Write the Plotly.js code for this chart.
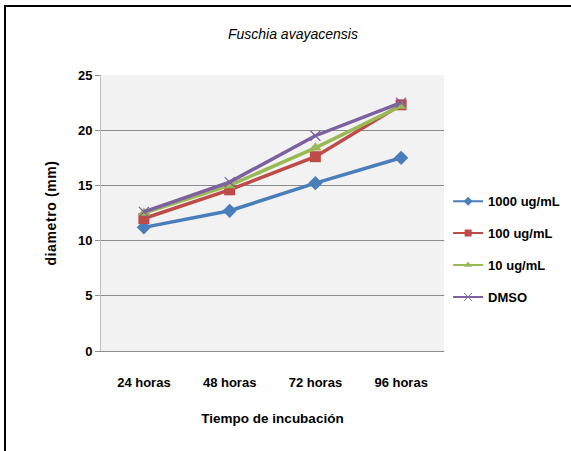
<!DOCTYPE html>
<html>
<head>
<meta charset="utf-8">
<script src="https://cdn.plot.ly/plotly-3.0.1.min.js"></script>
<style>
  html, body { margin: 0; padding: 0; background: #fff; }
  #wrap { position: relative; width: 571px; height: 451px; overflow: hidden; }
  #chart { position: absolute; left: 0; top: 0; width: 571px; height: 451px; }
  #frame { position: absolute; left: 4px; top: 5px; width: 580px; height: 460px;
           border-left: 2px solid #000; border-top: 2px solid #000; pointer-events: none; }
  #chart .ytitle { letter-spacing: 0.6px; }
</style>
</head>
<body>
<div id="wrap">
  <div id="chart"></div>
  <div id="frame"></div>
</div>
<script>
// Incubation times (categories)
const categories = ["24 horas", "48 horas", "72 horas", "96 horas"];

// Halo diameter (mm) per treatment
const conc1000 = [11.2, 12.7, 15.2, 17.5];
const conc100  = [12.0, 14.6, 17.6, 22.3];
const conc10   = [12.5, 15.0, 18.4, 22.2];
const dmso     = [12.6, 15.3, 19.5, 22.5];

const seriesNames = ["1000 ug/mL", "100 ug/mL", "10 ug/mL", "DMSO"];
const seriesData = [conc1000, conc100, conc10, dmso];
const colors = ["#4a7ebb", "#be4b48", "#98b954", "#7d60a0"];
const symbols = ["diamond", "square", "triangle-up", "x-thin"];

// Data lines with full-size markers
const dataTraces = seriesData.map((vals, i) => ({
  type: "scatter",
  mode: "lines+markers",
  x: categories,
  y: vals,
  name: seriesNames[i],
  showlegend: false,
  line: { color: colors[i], width: 3.5 },
  marker: {
    symbol: symbols[i],
    size: i === 3 ? 10 : 11,
    color: colors[i],
    line: { color: colors[i], width: i === 3 ? 1.2 : 0 }
  }
}));

// Legend keys: thin line with a small marker
const legendTraces = seriesNames.map((name, i) => ({
  type: "scatter",
  mode: "lines+markers",
  x: [null],
  y: [null],
  name: name,
  legendgroup: "g" + i,
  hoverinfo: "skip",
  line: { color: colors[i], width: 2 },
  marker: {
    symbol: symbols[i],
    size: i === 3 ? 8 : 7,
    color: colors[i],
    line: { color: colors[i], width: i === 3 ? 1 : 0 }
  }
}));

const fam = "Liberation Sans, Arial, sans-serif";

const layout = {
  width: 571,
  height: 451,
  margin: { l: 101, r: 127, t: 75, b: 100, autoexpand: false },
  paper_bgcolor: "#ffffff",
  plot_bgcolor: "#f2f2f2",
  showlegend: true,
  title: {
    text: "<i>Fuschia avayacensis</i>",
    font: { family: fam, size: 14, color: "#000" },
    x: 0.513, xref: "container", xanchor: "center",
    y: 0.925, yref: "container", yanchor: "middle"
  },
  xaxis: {
    type: "category",
    range: [-0.5, 3.5],
    showgrid: false,
    zeroline: false,
    showline: true,
    linecolor: "#8c8c8c",
    linewidth: 1,
    ticks: "",
    ticklabelstandoff: 19,
    tickfont: { family: fam, size: 13, color: "#000", weight: "bold" },
    title: {
      text: "<b>Tiempo de incubación</b>",
      font: { family: fam, size: 13.5, color: "#000" },
      standoff: 24
    }
  },
  yaxis: {
    range: [0, 25],
    tickvals: [0, 5, 10, 15, 20, 25],
    showgrid: true,
    gridcolor: "#8c8c8c",
    gridwidth: 1,
    zeroline: false,
    showline: true,
    linecolor: "#bfbfbf",
    linewidth: 1,
    ticks: "outside",
    ticklen: 5,
    tickcolor: "#8c8c8c",
    tickfont: { family: fam, size: 13, color: "#000", weight: "bold" },
    title: {
      text: "<b>diametro (mm)</b>",
      font: { family: fam, size: 14, color: "#000" },
      standoff: 18
    }
  },
  legend: {
    x: 1.012, xanchor: "left",
    y: 0.597, yanchor: "top",
    traceorder: "grouped",
    tracegroupgap: 12,
    itemwidth: 30,
    font: { family: fam, size: 13, color: "#000", weight: "bold" },
    bgcolor: "rgba(0,0,0,0)"
  }
};

Plotly.newPlot("chart", dataTraces.concat(legendTraces), layout, { displayModeBar: false, staticPlot: true });
</script>
</body>
</html>
